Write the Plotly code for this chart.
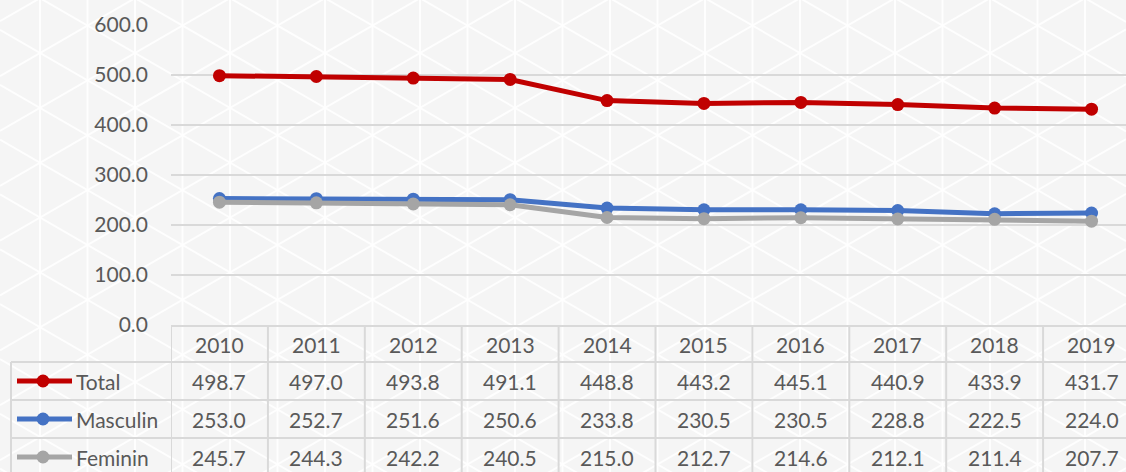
import plotly.graph_objects as go

# Data
years = [2010, 2011, 2012, 2013, 2014, 2015, 2016, 2017, 2018, 2019]
total = [498.7, 497.0, 493.8, 491.1, 448.8, 443.2, 445.1, 440.9, 433.9, 431.7]
masculin = [253.0, 252.7, 251.6, 250.6, 233.8, 230.5, 230.5, 228.8, 222.5, 224.0]
feminin = [245.7, 244.3, 242.2, 240.5, 215.0, 212.7, 214.6, 212.1, 211.4, 207.7]

series = [
    ("Total", total, "#C00000"),
    ("Masculin", masculin, "#4472C4"),
    ("Feminin", feminin, "#A5A5A5"),
]

W, H = 1126, 472
ML, MT, MB = 171, 25, 147
PW, PH = W - ML, H - MT - MB
COL = 96.9  # pixel width of one year column
FONT = "Lato"
FS = 21
TXT = "#595959"
GRID = "#D9D9D9"


def px(x):
    return (x - ML) / PW


def py(y):
    return (H - MB - y) / PH


fig = go.Figure()
for name, vals, color in series:
    fig.add_trace(go.Scatter(
        x=years, y=vals, name=name, mode="lines+markers",
        line=dict(color=color, width=5),
        marker=dict(color=color, size=13),
        cliponaxis=False, showlegend=False,
    ))

shapes = []
annotations = []

# faint triangular lattice in the page background
LAT = dict(color="rgba(255,255,255,0.85)", width=2)
s3 = 0.57735
step_x, step_y = 47.5, 54.85
x = 40 - step_x
while x <= W + 2:
    if x >= -2:
        shapes.append(dict(type="line", xref="paper", yref="paper", layer="below",
                           x0=px(x), x1=px(x), y0=py(0), y1=py(H), line=LAT))
    x += step_x
c = 29.9
while c > -s3 * W - step_y:
    c -= step_y
while c < H + step_y:
    shapes.append(dict(type="line", xref="paper", yref="paper", layer="below",
                       x0=px(0), x1=px(W), y0=py(c), y1=py(c + s3 * W), line=LAT))
    c += step_y
c = 76.1
while c > -step_y:
    c -= step_y
while c < H + s3 * W + step_y:
    shapes.append(dict(type="line", xref="paper", yref="paper", layer="below",
                       x0=px(0), x1=px(W), y0=py(c), y1=py(c - s3 * W), line=LAT))
    c += step_y

# data table below the plot
row_edges = [326, 362, 400, 438, 476]
x_start = years[0] - 0.5
x_end = x_start + PW / COL
for yb in row_edges[1:]:
    shapes.append(dict(type="line", xref="paper", yref="paper",
                       x0=px(11), x1=px(W), y0=py(yb), y1=py(yb),
                       line=dict(color=GRID, width=2)))
for yr in years:
    shapes.append(dict(type="line", xref="x", yref="paper",
                       x0=yr - 0.5, x1=yr - 0.5, y0=py(row_edges[0]), y1=py(H + 5),
                       line=dict(color=GRID, width=2)))
shapes.append(dict(type="line", xref="paper", yref="paper",
                   x0=px(11), x1=px(11), y0=py(row_edges[1]), y1=py(H + 5),
                   line=dict(color=GRID, width=2)))

row_centers = [(row_edges[i] + row_edges[i + 1]) / 2 for i in range(4)]
for yr in years:
    annotations.append(dict(x=yr, y=py(row_centers[0]), xref="x", yref="paper",
                            xanchor="center", yanchor="middle",
                            text=str(yr), showarrow=False,
                            font=dict(family=FONT, size=FS, color=TXT)))
for r, (name, vals, color) in enumerate(series):
    yc = row_centers[r + 1]
    for yr, v in zip(years, vals):
        annotations.append(dict(x=yr, y=py(yc), xref="x", yref="paper",
                                xanchor="center", yanchor="middle",
                                text=f"{v:.1f}", showarrow=False,
                                font=dict(family=FONT, size=FS, color=TXT)))
    annotations.append(dict(x=px(74), y=py(yc), xref="paper", yref="paper",
                            xanchor="left", yanchor="middle",
                            text=name, showarrow=False,
                            font=dict(family=FONT, size=FS, color=TXT)))
    # legend key
    shapes.append(dict(type="line", xref="paper", yref="paper",
                       x0=px(17), x1=px(72), y0=py(yc), y1=py(yc),
                       line=dict(color=color, width=5)))
    shapes.append(dict(type="circle", xref="paper", yref="paper",
                       xsizemode="pixel", ysizemode="pixel",
                       xanchor=px(43), yanchor=py(yc),
                       x0=-6.5, x1=6.5, y0=-6.5, y1=6.5,
                       fillcolor=color, line=dict(width=0)))

fig.update_layout(
    width=W, height=H,
    margin=dict(l=ML, r=0, t=MT, b=MB, pad=0),
    paper_bgcolor="#F5F5F5",
    plot_bgcolor="rgba(0,0,0,0)",
    shapes=shapes,
    annotations=annotations,
    xaxis=dict(range=[x_start, x_end], showticklabels=False,
               showgrid=False, zeroline=False, showline=True,
               linecolor=GRID, linewidth=2, ticks=""),
    yaxis=dict(range=[0, 600], dtick=100, tickformat=".1f",
               showgrid=True, gridcolor=GRID, gridwidth=1.5,
               zeroline=False, showline=False, ticks="",
               ticklabelstandoff=22,
               tickfont=dict(family=FONT, size=FS, color=TXT)),
)

fig.write_html("out.html")
